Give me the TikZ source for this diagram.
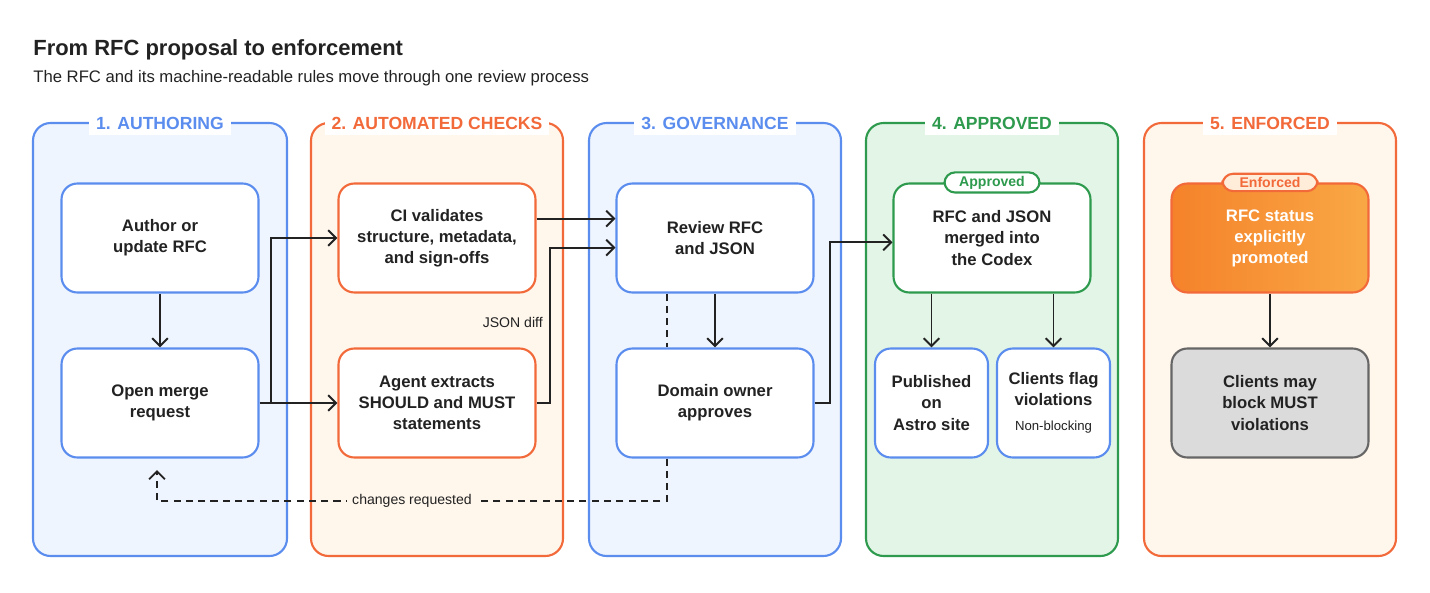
\documentclass[tikz,border=0pt]{standalone}
\usepackage{fontspec}
\setmainfont{Liberation Sans}
\usetikzlibrary{positioning,calc,arrows.meta}
\definecolor{bluel}{HTML}{5B8DEF}
\definecolor{bluef}{HTML}{EFF5FE}
\definecolor{orl}{HTML}{F2693A}
\definecolor{orf}{HTML}{FFF6EC}
\definecolor{grl}{HTML}{2E9A4D}
\definecolor{grf}{HTML}{E3F5E7}
\definecolor{ink}{HTML}{222222}
\definecolor{gradl}{HTML}{F5822A}
\definecolor{gradr}{HTML}{F9A846}

\tikzset{
  panel/.style={draw=#1l, line width=1.2pt, rounded corners=10pt, fill=#1f},
  phead/.style={fill=white, text=#1l, font=\bfseries\fontsize{10}{12}\selectfont, inner xsep=4pt},
  stepbox/.style={draw=#1, line width=1.2pt, rounded corners=9pt, fill=white,
    minimum width=3.94cm, minimum height=2.18cm, align=center,
    font=\bfseries\fontsize{9.5}{12}\selectfont, text=ink},
  smallbox/.style={stepbox=bluel, minimum width=2.26cm},
  badge/.style={draw=#1, line width=1.2pt, rounded corners=6pt, inner sep=2pt,
    minimum width=1.9cm, font=\bfseries\fontsize{8}{9}\selectfont},
  flow/.style={-{Straight Barb[length=4.5pt,width=9pt]}, line width=1.1pt, draw=ink},
  loose/.style={line width=1.1pt, draw=ink, dashed, dash pattern=on 4pt off 3pt},
}

\begin{document}
\begin{tikzpicture}[x=0.02cm,y=-0.02cm]
\useasboundingbox (0,0) rectangle (1430,592);

\node[anchor=base west, inner sep=0pt, font=\bfseries\fontsize{12.5}{14}\selectfont, text=ink] (title) at (33,55) {From RFC proposal to enforcement};
\node[anchor=base west, inner sep=0pt, font=\fontsize{9.5}{12}\selectfont, text=ink] (sub) at (33,82) {The RFC and its machine-readable rules move through one review process};

% panels
\draw[panel=blue] (33,123) rectangle (287,556);
\draw[panel=or] (311,123) rectangle (563,556);
\draw[panel=blue] (589,123) rectangle (841,556);
\draw[panel=gr] (866,123) rectangle (1118,556);
\draw[panel=or] (1144,123) rectangle (1396,556);
\node[phead=blue] (h1) at (160,123) {1. AUTHORING};
\node[phead=or] (h2) at (437,123) {2. AUTOMATED CHECKS};
\node[phead=blue] (h3) at (715,123) {3. GOVERNANCE};
\node[phead=gr] (h4) at (992,123) {4. APPROVED};
\node[phead=or] (h5) at (1270,123) {5. ENFORCED};

% steps
\node[stepbox=bluel] (author) at (160,238) {Author or\\update RFC};
\node[stepbox=bluel] (open) at (160,403) {Open merge\\request};
\node[stepbox=orl] (ci) at (437,238) {CI validates\\structure, metadata,\\and sign-offs};
\node[stepbox=orl] (agent) at (437,403) {Agent extracts\\SHOULD and MUST\\statements};
\node[stepbox=bluel] (review) at (715,238) {Review RFC\\and JSON};
\node[stepbox=bluel] (owner) at (715,403) {Domain owner\\approves};
\node[stepbox=grl] (merged) at (992,238) {RFC and JSON\\merged into\\the Codex};
\node[smallbox] (pub) at (931.5,403) {Published\\on\\Astro site};
\node[smallbox] (flag) at (1053.5,403) {Clients flag\\violations\\[2pt]{\mdseries\fontsize{7.5}{9}\selectfont Non-blocking}};
\node[stepbox=orl, left color=gradl, right color=gradr, text=white] (status) at (1270,238) {RFC status\\explicitly\\promoted};
\node[stepbox=black!60, fill=black!14] (block) at (1270,403) {Clients may\\block MUST\\violations};

\node[badge=grl, fill=white, text=grl] (okbadge) at (merged.north) {Approved};
\node[badge=orl, fill=orange!15, text=orl] (enbadge) at (status.north) {Enforced};

% connectors
\coordinate (split) at (271,403);
\draw[flow] (author) -- (open);
\draw[flow] (open) -- (agent);
\draw[flow] (split) |- (ci.west);
\draw[flow] ([yshift=11pt]ci.east) -- ([yshift=11pt]review.west);
\draw[flow] (agent.east) -- ++(13,0) |- node[pos=0.26, left, font=\fontsize{8}{9}\selectfont, text=ink] {JSON diff} ([yshift=-5.5pt]review.west);
\draw[flow] (review) -- (owner);
\draw[loose] (review.south -| 667,0) -- (owner.north -| 667,0);
\draw[flow] (owner.east) -- ++(15,0) |- ([yshift=-2.5pt]merged.west);
\draw[flow] (merged.south -| pub) -- (pub);
\draw[flow] (merged.south -| flag) -- (flag);
\draw[flow] (status) -- (block);
\coordinate (back) at (157,470);
\draw[loose, -{Straight Barb[length=4.5pt,width=9pt]}] (owner.south -| 667,0) -- (667,501) -- node[fill=orf, font=\fontsize{8}{9}\selectfont, text=ink, inner xsep=3pt] {changes requested} (157,501) -- (back);
\end{tikzpicture}
\end{document}
